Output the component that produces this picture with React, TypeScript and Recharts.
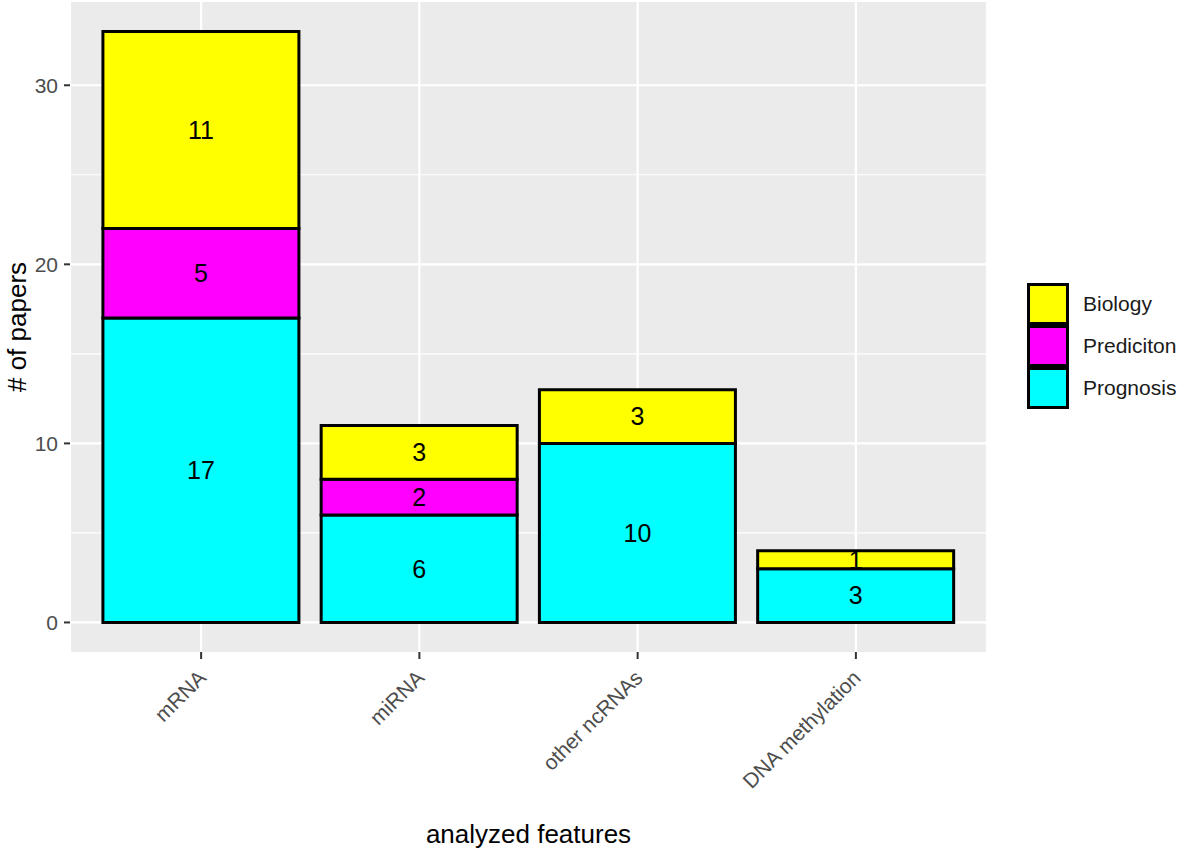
import React from 'react';
import { BarChart, Bar, XAxis, YAxis, CartesianGrid, Legend, LabelList } from 'recharts';

const categories = ['mRNA', 'miRNA', 'other ncRNAs', 'DNA methylation'];
const prognosis = [17, 6, 10, 3];
const prediciton = [5, 2, 0, 0];
const biology = [11, 3, 3, 1];
const yTicks = [0, 10, 20, 30];
const yMinorTicks = [5, 15, 25];

const seriesNames = ['Biology', 'Prediciton', 'Prognosis'];
const seriesColors: Record<string, string> = {
  Biology: '#FFFF00',
  Prediciton: '#FF00FF',
  Prognosis: '#00FFFF',
};

const data = categories.map((c, i) => ({
  category: c,
  Prognosis: prognosis[i],
  Prediciton: prediciton[i],
  Biology: biology[i],
}));

const FONT = '"Liberation Sans", Arial, Helvetica, sans-serif';

const XTick = (props: any) => {
  const { x, y, payload } = props;
  return (
    <text
      transform={`translate(${x + 1},${y + 13}) rotate(-45)`}
      textAnchor="end"
      dy="0.35em"
      fontSize={21}
      fill="#4D4D4D"
      fontFamily={FONT}
    >
      {payload.value}
    </text>
  );
};

const LegendContent = () => (
  <div style={{ fontFamily: FONT }}>
    {seriesNames.map((n) => (
      <div key={n} style={{ display: 'flex', alignItems: 'center', height: 42 }}>
        <div
          style={{
            width: 36,
            height: 36,
            background: seriesColors[n],
            border: '3px solid #000',
            boxSizing: 'content-box',
          }}
        />
        <span style={{ marginLeft: 14, fontSize: 21, color: '#1A1A1A' }}>{n}</span>
      </div>
    ))}
  </div>
);

const fmt = (v: any) => (v === 0 ? '' : v);

export default function App() {
  return (
    <div style={{ position: 'absolute', left: 0, top: 0, width: 1181, height: 853, background: '#fff' }}>
      <BarChart
        width={1181}
        height={853}
        data={data}
        margin={{ top: 2, right: 194, bottom: 0, left: 0 }}
        barCategoryGap="5%"
      >
        <CartesianGrid
          fill="#EBEBEB"
          stroke="#FFFFFF"
          strokeWidth={1.1}
          vertical={false}
          horizontalValues={yMinorTicks}
        />
        <CartesianGrid
          stroke="#FFFFFF"
          strokeWidth={2.2}
          horizontalValues={yTicks}
        />
        <XAxis
          dataKey="category"
          padding={{ left: 22, right: 22 }}
          height={201}
          axisLine={false}
          tickSize={7}
          tickLine={{ stroke: '#333333', strokeWidth: 2 }}
          tick={<XTick />}
          interval={0}
          label={{
            value: 'analyzed features',
            position: 'insideBottom',
            offset: 10,
            fontSize: 26,
            fill: '#000',
            fontFamily: FONT,
          }}
        />
        <YAxis
          width={70}
          domain={[-1.65, 34.65]}
          allowDataOverflow
          ticks={yTicks}
          axisLine={false}
          tickSize={6}
          tickMargin={6}
          tickLine={{ stroke: '#333333', strokeWidth: 2 }}
          tick={{ fontSize: 21, fill: '#4D4D4D', fontFamily: FONT }}
          label={{
            value: '# of papers',
            angle: -90,
            position: 'insideLeft',
            offset: 17,
            textAnchor: 'middle',
            fontSize: 26,
            fill: '#000',
            fontFamily: FONT,
          }}
        />
        <Legend
          layout="vertical"
          align="center"
          verticalAlign="middle"
          wrapperStyle={{ left: 1027, top: 283, width: 154 }}
          content={<LegendContent />}
        />
        <Bar dataKey="Prognosis" stackId="a" fill={seriesColors.Prognosis} stroke="#000" strokeWidth={3} isAnimationActive={false}>
          <LabelList dataKey="Prognosis" position="center" formatter={fmt} fontSize={25} fill="#000" fontFamily={FONT} />
        </Bar>
        <Bar dataKey="Prediciton" stackId="a" fill={seriesColors.Prediciton} stroke="#000" strokeWidth={3} isAnimationActive={false}>
          <LabelList dataKey="Prediciton" position="center" formatter={fmt} fontSize={25} fill="#000" fontFamily={FONT} />
        </Bar>
        <Bar dataKey="Biology" stackId="a" fill={seriesColors.Biology} stroke="#000" strokeWidth={3} isAnimationActive={false}>
          <LabelList dataKey="Biology" position="center" formatter={fmt} fontSize={25} fill="#000" fontFamily={FONT} />
        </Bar>
      </BarChart>
    </div>
  );
}
